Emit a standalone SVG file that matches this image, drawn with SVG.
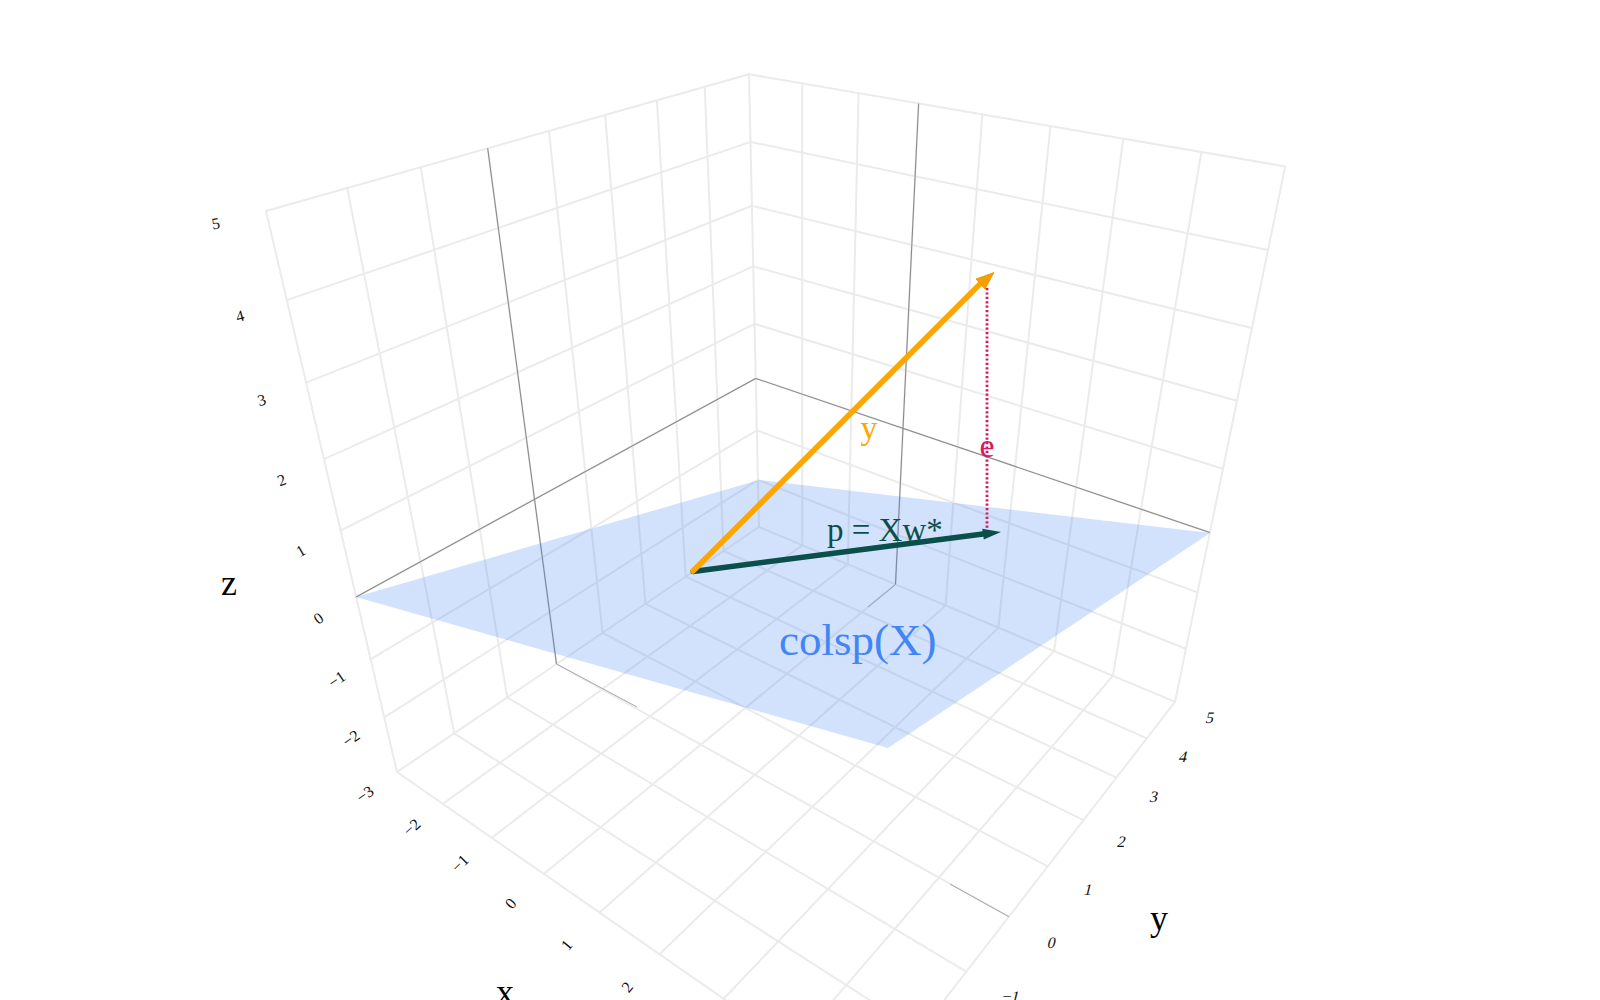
<svg xmlns="http://www.w3.org/2000/svg" width="1600" height="1000" viewBox="0 0 1600 1000">
<style>
.grid{stroke:#ebebeb;stroke-width:2;fill:none;stroke-linecap:round}
.zero{stroke:#8a8a8a;stroke-width:1.1;fill:none}
.zerof{stroke:#a8a8a8;stroke-width:1;fill:none}
.tick{font-family:'Liberation Serif','Times New Roman',serif;font-size:16px;fill:#111;text-anchor:middle;dominant-baseline:central}
.title{font-family:'Liberation Serif','Times New Roman',serif;font-size:36px;fill:#000;text-anchor:middle}
.lbl{font-family:'Liberation Serif','Times New Roman',serif}
</style>
<rect width="1600" height="1000" fill="#ffffff"/>
<g id="grid-left-wall">
<path class="grid" d="M266,211L397,772M347.2,188L454.2,733.3M420.7,167.2L507.2,697.4M487.7,148.3L556.5,664M548.9,130.9L602.5,632.9M605.1,115L645.5,603.8M656.9,100.4L685.7,576.6M704.7,86.9L723.5,551M749,74.3L759,527"/>
<path class="grid" d="M266,211L749,74.3M286.8,300.1L750.5,141.9M306.1,382.6L751.9,205.8M324,459.2L753.3,266.4M340.6,530.5L754.5,323.8M356.1,596.9L755.7,378.4M370.6,659.1L756.9,430.4M384.2,717.3L758,479.8M397,772L759,527"/>
</g>
<g id="grid-right-wall">
<path class="grid" d="M802.2,83.5L802.3,545.2M858.6,93.2L847.8,564.3M918.6,103.5L895.5,584.4M982.4,114.4L945.6,605.5M1050.5,126.1L998.4,627.7M1123.3,138.6L1054.1,651.1M1201.4,152L1112.9,675.8M1285.2,166.4L1175,701.9"/>
<path class="grid" d="M749,74.3L1285.2,166.4M750.5,141.9L1268,250.1M751.9,205.8L1251.9,328M753.3,266.4L1237,400.7M754.5,323.8L1223,468.7M755.7,378.4L1209.8,532.5M756.9,430.4L1197.5,592.4M758,479.8L1185.9,648.8M759,527L1175,701.9"/>
</g>
<g id="grid-floor">
<path class="grid" d="M442.9,803.8L802.3,545.2M491.7,837.7L847.8,564.3M543.8,873.9L895.5,584.4M599.6,912.6L945.6,605.5M659.4,954.2L998.4,627.7M723.7,998.8L1054.1,651.1M793,1046.9L1112.9,675.8M867.9,1098.9L1175,701.9"/>
<path class="grid" d="M397,772L867.9,1098.9M454.2,733.3L919.6,1032.2M507.2,697.4L966.3,971.7M556.5,664L1008.9,916.7M602.5,632.9L1047.8,866.4M645.5,603.8L1083.6,820.2M685.7,576.6L1116.5,777.6M723.5,551L1146.8,738.3"/>
</g>
<g id="zero-lines">
<path class="zero" d="M487.7,148.3L556.5,664M356.1,596.9L755.7,378.4M918.6,103.5L895.5,584.4M755.7,378.4L1209.8,532.5"/>
<path class="zerof" d="M556.5,664L637,707M950,884L1008.9,916.7M895.5,584.4L868,607"/>
</g>
<g id="plane">
<polygon points="356,597 759,480 1210,533 888,748" fill="#4285F4" fill-opacity="0.24"/>
</g>
<g id="vectors">
<line x1="693" y1="571.5" x2="983" y2="534" stroke="#0b4f4b" stroke-width="5.5" stroke-linecap="round"/>
<polygon points="983.8,539.5 1001,532 982.2,528.8" fill="#0b4f4b"/>
<line x1="693" y1="571" x2="981" y2="283" stroke="#FFA500" stroke-width="5.5" stroke-linecap="round"/>
<polygon points="985,289 994,272.5 976,279" fill="#F5A000" stroke="#E39400" stroke-width="0.8"/>
<line x1="987" y1="288" x2="987" y2="528" stroke="#D81B60" stroke-width="2.8" stroke-dasharray="2.2 2.2"/>
</g>
<g id="vector-labels">
<text class="lbl" x="869" y="439" font-size="34" fill="#FFA500" text-anchor="middle">y</text>
<text class="lbl" x="987" y="457" font-size="34" fill="#D81B60" text-anchor="middle">e</text>
<text class="lbl" x="827" y="541" font-size="33" fill="#0b4f4b">p = Xw*</text>
<text class="lbl" x="779" y="655" font-size="45" fill="#4285F4">colsp(X)</text>
</g>
<g id="z-axis-ticks">
<text class="tick" transform="translate(215.7,223.3) rotate(-10)">5</text>
<text class="tick" transform="translate(240,316) rotate(-15)">4</text>
<text class="tick" transform="translate(261.7,400) rotate(-15)">3</text>
<text class="tick" transform="translate(281.7,480) rotate(-20)">2</text>
<text class="tick" transform="translate(300.7,550.7) rotate(-30)">1</text>
<text class="tick" transform="translate(318.3,618.3) rotate(-35)">0</text>
<text class="tick" transform="translate(336.7,679.3) rotate(-35)">−1</text>
<text class="tick" transform="translate(351,738.3) rotate(-35)">−2</text>
<text class="tick" transform="translate(365,794) rotate(-35)">−3</text>
<text class="title" x="229" y="595">z</text>
</g>
<g id="x-axis-ticks">
<text class="tick" transform="translate(411.7,827.3) rotate(-42)">−2</text>
<text class="tick" transform="translate(460,863.3) rotate(-45)">−1</text>
<text class="tick" transform="translate(510.7,903.3) rotate(-50)">0</text>
<text class="tick" transform="translate(566.7,945) rotate(-50)">1</text>
<text class="tick" transform="translate(627,987) rotate(-50)">2</text>
<text class="title" x="505" y="1004">x</text>
</g>
<g id="y-axis-ticks">
<text class="tick" transform="translate(1210,718.3) skewX(-14)">5</text>
<text class="tick" transform="translate(1183.3,756.7) skewX(-14)">4</text>
<text class="tick" transform="translate(1154,796.7) skewX(-14)">3</text>
<text class="tick" transform="translate(1121.7,841.7) skewX(-14)">2</text>
<text class="tick" transform="translate(1088.3,890) skewX(-14)">1</text>
<text class="tick" transform="translate(1051.7,942.7) skewX(-14)">0</text>
<text class="tick" transform="translate(1011,997) skewX(-14)">−1</text>
<text class="title" x="1159" y="930">y</text>
</g>
</svg>
